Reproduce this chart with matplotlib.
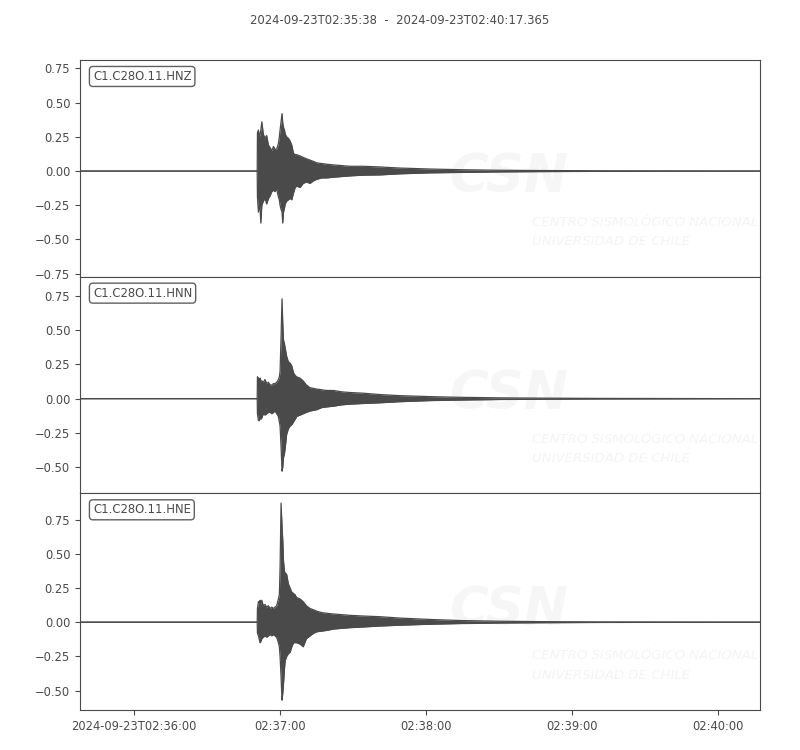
import matplotlib
matplotlib.use("Agg")
import matplotlib.pyplot as plt
import numpy as np

# ---------------- data ----------------
title_text = "2024-09-23T02:35:38  -  2024-09-23T02:40:17.365"
channels = ["C1.C28O.11.HNZ", "C1.C28O.11.HNN", "C1.C28O.11.HNE"]
duration = 279.365  # seconds from 02:35:38

# envelope sample times (s after 02:35:38)
t_env = [0, 72.8, 72.9, 73.3, 73.7, 74.0, 74.3, 74.7, 75.3, 76.0, 76.7, 77.4,
         78.1, 78.8, 79.5, 80.1, 80.8, 81.5, 81.9, 82.2, 82.6, 83.0, 83.3, 83.6,
         84.0, 84.3, 84.9, 85.6, 86.3, 87.0, 87.7, 88.4, 89.0, 90.4, 91.7, 93.0,
         94.5, 96.0, 97.3, 99.3, 101.4, 104.1, 107.5, 111.0, 116.4, 123.3, 131.5,
         143.8, 156.2, 172.6, 189.0, 213.7, 279.365]

hnz_max = [0, 0, 0.28, 0.30, 0.25, 0.27, 0.30, 0.36, 0.27, 0.24, 0.26, 0.19,
           0.17, 0.15, 0.18, 0.16, 0.16, 0.20, 0.25, 0.30, 0.36, 0.42, 0.35, 0.32,
           0.30, 0.27, 0.25, 0.24, 0.22, 0.19, 0.13, 0.12, 0.12, 0.11, 0.10, 0.09,
           0.08, 0.07, 0.06, 0.055, 0.05, 0.045, 0.04, 0.035, 0.035, 0.03, 0.022,
           0.015, 0.01, 0.006, 0.004, 0.002, 0]
hnz_min = [0, 0, -0.19, -0.30, -0.25, -0.28, -0.38, -0.25, -0.22, -0.20, -0.24, -0.20,
           -0.18, -0.15, -0.14, -0.15, -0.13, -0.19, -0.21, -0.25, -0.28, -0.30, -0.38, -0.30,
           -0.27, -0.24, -0.22, -0.21, -0.20, -0.21, -0.16, -0.12, -0.11, -0.12, -0.09, -0.08,
           -0.09, -0.07, -0.06, -0.05, -0.05, -0.045, -0.04, -0.035, -0.03, -0.028, -0.02,
           -0.013, -0.01, -0.006, -0.004, -0.002, 0]

hnn_max = [0, 0, 0.16, 0.15, 0.14, 0.15, 0.13, 0.13, 0.12, 0.14, 0.11, 0.12,
           0.10, 0.10, 0.11, 0.11, 0.12, 0.14, 0.16, 0.20, 0.45, 0.73, 0.55, 0.43,
           0.40, 0.37, 0.31, 0.27, 0.26, 0.24, 0.19, 0.17, 0.16, 0.15, 0.13, 0.10,
           0.08, 0.075, 0.07, 0.065, 0.06, 0.06, 0.05, 0.045, 0.04, 0.03, 0.022,
           0.015, 0.01, 0.006, 0.004, 0.002, 0]
hnn_min = [0, 0, -0.11, -0.16, -0.16, -0.13, -0.15, -0.14, -0.11, -0.12, -0.11, -0.10,
           -0.10, -0.11, -0.10, -0.09, -0.11, -0.13, -0.17, -0.20, -0.35, -0.53, -0.50, -0.43,
           -0.40, -0.36, -0.26, -0.22, -0.20, -0.19, -0.17, -0.15, -0.13, -0.12, -0.11, -0.10,
           -0.09, -0.085, -0.08, -0.065, -0.06, -0.055, -0.045, -0.04, -0.035, -0.03, -0.022,
           -0.014, -0.01, -0.006, -0.004, -0.002, 0]

hne_max = [0, 0, 0.10, 0.15, 0.14, 0.16, 0.13, 0.16, 0.12, 0.13, 0.11, 0.12,
           0.10, 0.11, 0.10, 0.11, 0.12, 0.17, 0.20, 0.40, 0.87, 0.70, 0.60, 0.45,
           0.37, 0.36, 0.35, 0.28, 0.25, 0.22, 0.21, 0.20, 0.18, 0.17, 0.15, 0.12,
           0.10, 0.09, 0.08, 0.07, 0.065, 0.06, 0.055, 0.05, 0.045, 0.04, 0.03,
           0.02, 0.012, 0.007, 0.004, 0.002, 0]
hne_min = [0, 0, -0.08, -0.10, -0.13, -0.15, -0.14, -0.12, -0.11, -0.10, -0.11, -0.10,
           -0.09, -0.10, -0.09, -0.10, -0.11, -0.15, -0.18, -0.25, -0.40, -0.57, -0.52, -0.45,
           -0.34, -0.28, -0.25, -0.23, -0.22, -0.18, -0.15, -0.15, -0.15, -0.16, -0.18, -0.12,
           -0.10, -0.08, -0.07, -0.065, -0.06, -0.05, -0.045, -0.04, -0.035, -0.028, -0.022,
           -0.015, -0.01, -0.006, -0.004, -0.002, 0]

xtick_pos = [22, 82, 142, 202, 262]
xtick_labels = ["2024-09-23T02:36:00", "02:37:00", "02:38:00", "02:39:00", "02:40:00"]
ytick_sets = [[-0.75, -0.5, -0.25, 0.0, 0.25, 0.5, 0.75],
              [-0.5, -0.25, 0.0, 0.25, 0.5, 0.75],
              [-0.5, -0.25, 0.0, 0.25, 0.5, 0.75]]

# ---------------- plot ----------------
grey = "#4a4a4a"
plt.rcParams["font.family"] = ["DejaVu Sans"]

fig = plt.figure(figsize=(8, 7.5), dpi=100)
left, right = 0.10, 0.95
top, bottom = 0.92, 1 - 710 / 750
h = (top - bottom) / 3

envs = [(hnz_max, hnz_min), (hnn_max, hnn_min), (hne_max, hne_min)]
half = max(max(a) - min(b) for a, b in envs) * 0.55

axes = []
for i, (ch, (hi, lo)) in enumerate(zip(channels, envs)):
    ax = fig.add_axes([left, top - (i + 1) * h, right - left, h])
    axes.append(ax)
    t = np.array(t_env)
    ax.fill_between(t, lo, hi, color=grey, linewidth=0, zorder=2)
    ax.plot(t, hi, color=grey, lw=0.9, zorder=2)
    ax.plot(t, lo, color=grey, lw=0.9, zorder=2)
    c = (max(hi) + min(lo)) / 2
    ax.set_ylim(c - half, c + half)
    ax.set_xlim(0, duration)
    ax.set_yticks(ytick_sets[i])
    ax.set_yticklabels([f"{v:.2f}".replace("-", "\u2212") for v in ytick_sets[i]])
    for s in ax.spines.values():
        s.set_color(grey)
    ax.tick_params(axis="y", colors=grey, labelsize=8.3, length=3.5, width=0.8,
                   labelcolor=grey)
    if i < 2:
        ax.tick_params(axis="x", bottom=False, labelbottom=False)
    else:
        ax.set_xticks(xtick_pos)
        ax.set_xticklabels(xtick_labels)
        ax.tick_params(axis="x", colors=grey, labelsize=8.3, length=3.5, width=0.8,
                       labelcolor=grey)
    ax.text(0.019, 0.954, ch, transform=ax.transAxes, ha="left", va="top",
            fontsize=8.4, color=grey, zorder=5,
            bbox=dict(boxstyle="round,pad=0.3", fc="white", ec="#606060", lw=1.0))
    # faint watermark
    ax.text(0.63, 0.46, "CSN", transform=ax.transAxes, ha="center", va="center",
            fontsize=38, fontweight="bold", style="italic", color="#f6f6f6", zorder=0)
    ax.text(0.665, 0.25, "CENTRO SISMOLÓGICO NACIONAL", transform=ax.transAxes,
            ha="left", va="center", fontsize=9.5, style="italic", color="#f4f4f4", zorder=0)
    ax.text(0.665, 0.16, "UNIVERSIDAD DE CHILE", transform=ax.transAxes,
            ha="left", va="center", fontsize=9.5, style="italic", color="#f4f4f4", zorder=0)

fig.text(0.5, 1 - 20 / 750, title_text, ha="center", va="center", fontsize=8.4, color=grey)

fig.savefig("out.png", dpi=100)
